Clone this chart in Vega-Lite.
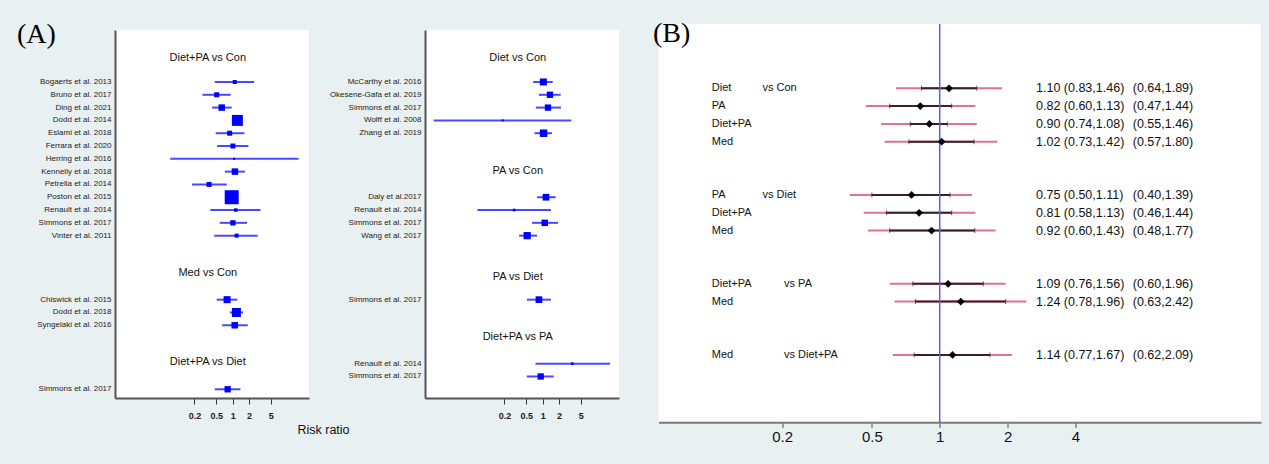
{
  "$schema": "https://vega.github.io/schema/vega-lite/v6.json",
  "background": "#e8f0f2",
  "padding": {"left": 17, "top": 19, "right": 9, "bottom": 22},
  "bounds": "full",
  "spacing": 33.5,
  "config": {"font": "Liberation Sans"},
  "datasets": {
    "a1": [
      {"study": "Bogaerts et al. 2013", "row": 0, "rr": 1.09, "lo": 0.47, "hi": 2.46, "weight": 16},
      {"study": "Bruno et al. 2017", "row": 1, "rr": 0.51, "lo": 0.28, "hi": 0.92, "weight": 25},
      {"study": "Ding et al. 2021", "row": 2, "rr": 0.63, "lo": 0.42, "hi": 0.96, "weight": 42},
      {"study": "Dodd et al. 2014", "row": 3, "rr": 1.22, "lo": 1.0, "hi": 1.45, "weight": 121},
      {"study": "Eslami et al. 2018", "row": 4, "rr": 0.88, "lo": 0.49, "hi": 1.64, "weight": 25},
      {"study": "Ferrara et al. 2020", "row": 5, "rr": 1.01, "lo": 0.52, "hi": 1.94, "weight": 25},
      {"study": "Herring et al. 2016", "row": 6, "rr": 1.06, "lo": 0.072, "hi": 16.1, "weight": 4},
      {"study": "Kennelly et al. 2018", "row": 7, "rr": 1.10, "lo": 0.72, "hi": 1.68, "weight": 42},
      {"study": "Petrella et al. 2014", "row": 8, "rr": 0.37, "lo": 0.18, "hi": 0.78, "weight": 25},
      {"study": "Poston et al. 2015", "row": 9, "rr": 0.96, "lo": 0.80, "hi": 1.15, "weight": 196},
      {"study": "Renault et al. 2014", "row": 10, "rr": 1.14, "lo": 0.39, "hi": 3.23, "weight": 12},
      {"study": "Simmons et al. 2017", "row": 11, "rr": 1.01, "lo": 0.58, "hi": 1.83, "weight": 28},
      {"study": "Vinter et al. 2011", "row": 12, "rr": 1.18, "lo": 0.46, "hi": 2.88, "weight": 16},
      {"study": "Chiswick et al. 2015", "row": 17, "rr": 0.79, "lo": 0.51, "hi": 1.22, "weight": 49},
      {"study": "Dodd et al. 2018", "row": 18, "rr": 1.17, "lo": 0.89, "hi": 1.55, "weight": 81},
      {"study": "Syngelaki et al. 2016", "row": 19, "rr": 1.09, "lo": 0.64, "hi": 1.89, "weight": 42},
      {"study": "Simmons et al. 2017", "row": 24, "rr": 0.81, "lo": 0.47, "hi": 1.39, "weight": 40}
    ],
    "a1t": [
      {"title": "Diet+PA vs Con", "row": -1.9},
      {"title": "Med vs Con", "row": 14.95},
      {"title": "Diet+PA vs Diet", "row": 21.9}
    ],
    "a2": [
      {"study": "McCarthy et al. 2016", "row": 0, "rr": 1.03, "lo": 0.67, "hi": 1.53, "weight": 49},
      {"study": "Okesene-Gafa et al. 2019", "row": 1, "rr": 1.36, "lo": 0.85, "hi": 2.14, "weight": 40},
      {"study": "Simmons et al. 2017", "row": 2, "rr": 1.25, "lo": 0.75, "hi": 2.17, "weight": 40},
      {"study": "Wolff et al. 2008", "row": 3, "rr": 0.185, "lo": 0.0101, "hi": 3.35, "weight": 4},
      {"study": "Zhang et al. 2019", "row": 4, "rr": 1.04, "lo": 0.71, "hi": 1.48, "weight": 56},
      {"study": "Daly et al.2017", "row": 9, "rr": 1.15, "lo": 0.79, "hi": 1.73, "weight": 45},
      {"study": "Renault et al. 2014", "row": 10, "rr": 0.30, "lo": 0.064, "hi": 1.42, "weight": 7},
      {"study": "Simmons et al. 2017", "row": 11, "rr": 1.09, "lo": 0.64, "hi": 1.91, "weight": 42},
      {"study": "Wang et al. 2017", "row": 12, "rr": 0.52, "lo": 0.37, "hi": 0.79, "weight": 52},
      {"study": "Simmons et al. 2017", "row": 17, "rr": 0.855, "lo": 0.515, "hi": 1.42, "weight": 45},
      {"study": "Renault et al. 2014", "row": 22, "rr": 3.49, "lo": 0.74, "hi": 17.2, "weight": 7},
      {"study": "Simmons et al. 2017", "row": 23, "rr": 0.92, "lo": 0.515, "hi": 1.59, "weight": 40}
    ],
    "a2t": [
      {"title": "Diet vs Con", "row": -1.9},
      {"title": "PA vs Con", "row": 6.98},
      {"title": "PA vs Diet", "row": 15.24},
      {"title": "Diet+PA vs PA", "row": 19.9}
    ],
    "b": [
      {"treat": "Diet", "vs": "vs Con", "row": 0, "est": 1.10, "cilo": 0.83, "cihi": 1.46, "pilo": 0.64, "pihi": 1.89},
      {"treat": "PA", "vs": "", "row": 1, "est": 0.82, "cilo": 0.60, "cihi": 1.13, "pilo": 0.47, "pihi": 1.44},
      {"treat": "Diet+PA", "vs": "", "row": 2, "est": 0.90, "cilo": 0.74, "cihi": 1.08, "pilo": 0.55, "pihi": 1.46},
      {"treat": "Med", "vs": "", "row": 3, "est": 1.02, "cilo": 0.73, "cihi": 1.42, "pilo": 0.57, "pihi": 1.80},
      {"treat": "PA", "vs": "vs Diet", "row": 6, "est": 0.75, "cilo": 0.50, "cihi": 1.11, "pilo": 0.40, "pihi": 1.39},
      {"treat": "Diet+PA", "vs": "", "row": 7, "est": 0.81, "cilo": 0.58, "cihi": 1.13, "pilo": 0.46, "pihi": 1.44},
      {"treat": "Med", "vs": "", "row": 8, "est": 0.92, "cilo": 0.60, "cihi": 1.43, "pilo": 0.48, "pihi": 1.77},
      {"treat": "Diet+PA", "vs": "vs PA", "row": 11, "est": 1.09, "cilo": 0.76, "cihi": 1.56, "pilo": 0.60, "pihi": 1.96},
      {"treat": "Med", "vs": "", "row": 12, "est": 1.24, "cilo": 0.78, "cihi": 1.96, "pilo": 0.63, "pihi": 2.42},
      {"treat": "Med", "vs": "vs Diet+PA", "row": 15, "est": 1.14, "cilo": 0.77, "cihi": 1.67, "pilo": 0.62, "pihi": 2.09}
    ]
  },
  "hconcat": [
    {
      "bounds": "flush",
      "spacing": 0,
      "vconcat": [
        {
          "width": 1, "height": 6,
          "view": {"fill": null, "stroke": null},
          "data": {"values": []},
          "mark": "point",
          "encoding": {}
        },
        {
          "bounds": "flush",
          "spacing": 0,
          "hconcat": [
            {
              "width": 194, "height": 368,
              "view": {"fill": "white", "stroke": null},
              "title": {"text": "(A)", "anchor": "start", "frame": "group", "orient": "top", "offset": 0, "dx": -98, "dy": 40.7, "baseline": "alphabetic", "font": "Liberation Serif", "fontSize": 28, "fontWeight": "normal", "color": "#000"},
              "encoding": {
                "y": {"field": "row", "type": "quantitative", "scale": {"domain": [-4.06, 24.68], "reverse": true, "nice": false, "zero": false},
                      "axis": {"labels": false, "ticks": false, "grid": false, "title": null, "domainColor": "#555", "domainWidth": 2}}
              },
              "layer": [
                {"data": {"name": "a1"}, "mark": {"type": "rule", "color": "#4848ff", "strokeWidth": 2},
                 "encoding": {
                   "x": {"field": "lo", "type": "quantitative", "title": "Risk ratio", "scale": {"type": "log", "domain": [0.007, 25], "nice": false},
                         "axis": {"values": [0.2, 0.5, 1, 2, 5], "format": "~g", "title": "Risk ratio", "titleX": 208, "titleY": 31, "titleAlign": "center", "titleBaseline": "middle", "titleFont": "Liberation Sans", "titleFontSize": 12.5, "titleFontWeight": "normal", "titleColor": "#111", "labelFont": "Liberation Sans", "labelFontSize": 9, "labelFontWeight": "bold", "labelColor": "#222", "labelBaseline": "middle", "labelPadding": 11.5, "tickSize": 6, "tickColor": "#333", "domainColor": "#555", "domainWidth": 2, "grid": false, "labelFlush": false, "labelOverlap": false}},
                   "x2": {"field": "hi"}
                 }},
                {"data": {"name": "a1"}, "mark": {"type": "point", "shape": "square", "filled": true, "color": "#0000ff", "opacity": 1},
                 "encoding": {
                   "x": {"field": "rr", "type": "quantitative", "title": "Risk ratio", "axis": {"title": "Risk ratio"}},
                   "size": {"field": "weight", "type": "quantitative", "scale": {"domain": [0, 196], "range": [0, 196]}, "legend": null}
                 }},
                {"data": {"name": "a1"}, "mark": {"type": "text", "align": "right", "baseline": "middle", "dx": -3.5, "fontSize": 8, "font": "Liberation Sans", "color": "#222"},
                 "encoding": {
                   "x": {"datum": 0.007, "type": "quantitative", "title": "Risk ratio", "axis": {"title": "Risk ratio"}},
                   "text": {"field": "study"}
                 }},
                {"data": {"name": "a1t"}, "mark": {"type": "text", "align": "center", "baseline": "middle", "fontSize": 11, "font": "Liberation Sans", "color": "#111"},
                 "encoding": {
                   "x": {"datum": 0.35, "type": "quantitative", "title": "Risk ratio", "axis": {"title": "Risk ratio"}},
                   "text": {"field": "title"}
                 }}
              ]
            },
            {
              "width": 116, "height": 368,
              "view": {"fill": null, "stroke": null},
              "data": {"values": []},
              "mark": "point",
              "encoding": {}
            },
            {
              "width": 194, "height": 368,
              "view": {"fill": "white", "stroke": null},
              "encoding": {
                "y": {"field": "row", "type": "quantitative", "scale": {"domain": [-4.06, 24.68], "reverse": true, "nice": false, "zero": false},
                      "axis": {"labels": false, "ticks": false, "grid": false, "title": null, "domainColor": "#555", "domainWidth": 2}}
              },
              "layer": [
                {"data": {"name": "a2"}, "mark": {"type": "rule", "color": "#4848ff", "strokeWidth": 2},
                 "encoding": {
                   "x": {"field": "lo", "type": "quantitative", "title": null, "scale": {"type": "log", "domain": [0.007, 25], "nice": false},
                         "axis": {"values": [0.2, 0.5, 1, 2, 5], "format": "~g", "title": null, "labelFont": "Liberation Sans", "labelFontSize": 9, "labelFontWeight": "bold", "labelColor": "#222", "labelBaseline": "middle", "labelPadding": 11.5, "tickSize": 6, "tickColor": "#333", "domainColor": "#555", "domainWidth": 2, "grid": false, "labelFlush": false, "labelOverlap": false}},
                   "x2": {"field": "hi"}
                 }},
                {"data": {"name": "a2"}, "mark": {"type": "point", "shape": "square", "filled": true, "color": "#0000ff", "opacity": 1},
                 "encoding": {
                   "x": {"field": "rr", "type": "quantitative", "title": null, "axis": {"title": null}},
                   "size": {"field": "weight", "type": "quantitative", "scale": {"domain": [0, 196], "range": [0, 196]}, "legend": null}
                 }},
                {"data": {"name": "a2"}, "mark": {"type": "text", "align": "right", "baseline": "middle", "dx": -3.5, "fontSize": 8, "font": "Liberation Sans", "color": "#222"},
                 "encoding": {
                   "x": {"datum": 0.007, "type": "quantitative", "title": null, "axis": {"title": null}},
                   "text": {"field": "study"}
                 }},
                {"data": {"name": "a2t"}, "mark": {"type": "text", "align": "center", "baseline": "middle", "fontSize": 11, "font": "Liberation Sans", "color": "#111"},
                 "encoding": {
                   "x": {"datum": 0.35, "type": "quantitative", "title": null, "axis": {"title": null}},
                   "text": {"field": "title"}
                 }}
              ]
            }
          ]
        }
      ]
    },
    {
      "width": 602.5, "height": 398.3,
      "view": {"fill": "white", "stroke": null},
      "title": {"text": "(B)", "anchor": "start", "frame": "group", "orient": "top", "offset": 0, "dx": -5.5, "dy": 46.7, "baseline": "alphabetic", "font": "Liberation Serif", "fontSize": 28, "fontWeight": "normal", "color": "#000"},
      "encoding": {
        "y": {"field": "row", "type": "quantitative", "scale": {"domain": [-3.62, 18.79], "reverse": true, "nice": false, "zero": false}, "axis": null}
      },
      "layer": [
        {"data": {"name": "b"}, "mark": {"type": "rule", "color": "#e0728d", "strokeWidth": 2},
         "encoding": {
           "x": {"field": "pilo", "type": "quantitative", "title": null, "scale": {"type": "log", "domain": [0.0566, 26.6], "nice": false},
                 "axis": {"values": [0.2, 0.5, 1, 2, 4], "format": "~g", "title": null, "labelFont": "Liberation Sans", "labelFontSize": 15, "labelColor": "#111", "labelBaseline": "middle", "labelPadding": 9.5, "tickSize": 5, "tickColor": "#444", "domainColor": "#7a7a7a", "domainWidth": 2, "grid": false, "labelFlush": false, "labelOverlap": false}},
           "x2": {"field": "pihi"}
         }},
        {"data": {"name": "b"}, "mark": {"type": "rule", "color": "#3a1f27", "strokeWidth": 2},
         "encoding": {
           "x": {"field": "cilo", "type": "quantitative", "title": null, "axis": {"title": null}},
           "x2": {"field": "cihi"}
         }},
        {"data": {"values": [{}]}, "mark": {"type": "rule", "color": "#5a5aff", "strokeWidth": 1.5},
         "encoding": {"x": {"datum": 1, "type": "quantitative", "title": null, "axis": {"title": null}}, "y": null}},
        {"data": {"name": "b"}, "mark": {"type": "tick", "orient": "vertical", "size": 5, "thickness": 1, "color": "#222"},
         "encoding": {"x": {"field": "cilo", "type": "quantitative", "title": null, "axis": {"title": null}}}},
        {"data": {"name": "b"}, "mark": {"type": "tick", "orient": "vertical", "size": 5, "thickness": 1, "color": "#222"},
         "encoding": {"x": {"field": "cihi", "type": "quantitative", "title": null, "axis": {"title": null}}}},
        {"data": {"name": "b"}, "mark": {"type": "point", "shape": "diamond", "filled": true, "color": "#000", "opacity": 1, "size": 60},
         "encoding": {"x": {"field": "est", "type": "quantitative", "title": null, "axis": {"title": null}}}},
        {"data": {"name": "b"}, "mark": {"type": "text", "align": "left", "baseline": "middle", "fontSize": 11, "font": "Liberation Sans", "color": "#111"},
         "encoding": {"x": {"datum": 0.0975, "type": "quantitative", "title": null, "axis": {"title": null}}, "text": {"field": "treat"}}},
        {"data": {"name": "b"}, "transform": [{"filter": "datum.vs == 'vs Con' || datum.vs == 'vs Diet'"}],
         "mark": {"type": "text", "align": "left", "baseline": "middle", "fontSize": 11, "font": "Liberation Sans", "color": "#111"},
         "encoding": {"x": {"datum": 0.1637, "type": "quantitative", "title": null, "axis": {"title": null}}, "text": {"field": "vs"}}},
        {"data": {"name": "b"}, "transform": [{"filter": "datum.vs == 'vs PA' || datum.vs == 'vs Diet+PA'"}],
         "mark": {"type": "text", "align": "left", "baseline": "middle", "fontSize": 11, "font": "Liberation Sans", "color": "#111"},
         "encoding": {"x": {"datum": 0.204, "type": "quantitative", "title": null, "axis": {"title": null}}, "text": {"field": "vs"}}},
        {"data": {"name": "b"}, "transform": [{"calculate": "format(datum.est, '.2f') + ' (' + format(datum.cilo, '.2f') + ',' + format(datum.cihi, '.2f') + ')'", "as": "citext"}],
         "mark": {"type": "text", "align": "left", "baseline": "middle", "fontSize": 12.5, "font": "Liberation Sans", "color": "#111"},
         "encoding": {"x": {"datum": 2.674, "type": "quantitative", "title": null, "axis": {"title": null}}, "text": {"field": "citext"}}},
        {"data": {"name": "b"}, "transform": [{"calculate": "'(' + format(datum.pilo, '.2f') + ',' + format(datum.pihi, '.2f') + ')'", "as": "pitext"}],
         "mark": {"type": "text", "align": "left", "baseline": "middle", "fontSize": 12.5, "font": "Liberation Sans", "color": "#111"},
         "encoding": {"x": {"datum": 7.18, "type": "quantitative", "title": null, "axis": {"title": null}}, "text": {"field": "pitext"}}},
        {"data": {"values": [{"h": "Treatment Effect"}]},
         "mark": {"type": "text", "align": "left", "baseline": "middle", "fontSize": 12.5, "fontWeight": "bold", "font": "Liberation Sans", "color": "#111"},
         "encoding": {"x": {"datum": 0.0831, "type": "quantitative", "title": null, "axis": {"title": null}}, "y": {"datum": -2.28, "type": "quantitative"}, "text": {"field": "h"}}},
        {"data": {"values": [{"h": "Mean with 95%CI and 95%PrI"}]},
         "mark": {"type": "text", "align": "left", "baseline": "middle", "fontSize": 12.5, "fontWeight": "bold", "font": "Liberation Sans", "color": "#111"},
         "encoding": {"x": {"datum": 2.674, "type": "quantitative", "title": null, "axis": {"title": null}}, "y": {"datum": -2.28, "type": "quantitative"}, "text": {"field": "h"}}}
      ]
    }
  ]
}
